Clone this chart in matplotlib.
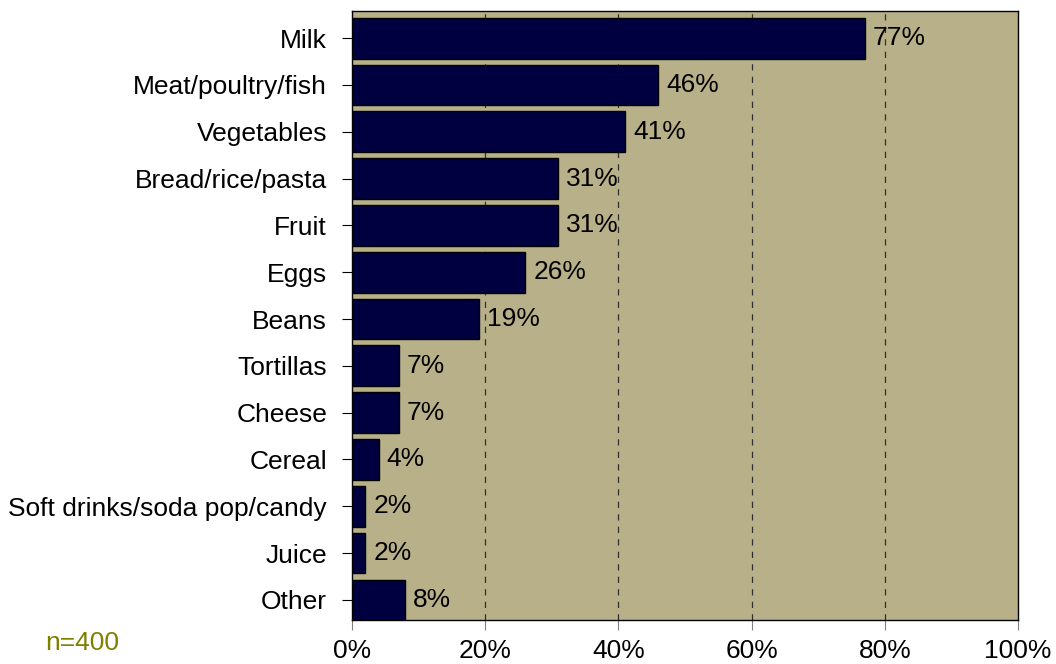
import matplotlib
matplotlib.use("Agg")
import matplotlib.pyplot as plt
from matplotlib.ticker import FuncFormatter

categories = ["Milk", "Meat/poultry/fish", "Vegetables", "Bread/rice/pasta", "Fruit",
              "Eggs", "Beans", "Tortillas", "Cheese", "Cereal",
              "Soft drinks/soda pop/candy", "Juice", "Other"]
values = [77, 46, 41, 31, 31, 26, 19, 7, 7, 4, 2, 2, 8]
xticks = [0, 20, 40, 60, 80, 100]

plt.rcParams['font.family'] = ['Liberation Sans', 'DejaVu Sans']
FS = 19

fig = plt.figure(figsize=(10.56, 6.64), dpi=100)
ax = fig.add_axes([352/1056, 44/664, 666/1056, 609/664])
ax.set_facecolor('#B8B088')

y = list(range(len(categories)))
ax.barh(y, values, height=0.87, color='#000040', edgecolor='black', linewidth=1, zorder=3)
for yi, v in zip(y, values):
    ax.text(v + 1.2, yi, f"{v}%", va='center', ha='left', fontsize=FS, color='black', zorder=4)

ax.set_xlim(0, 100)
ax.set_ylim(12.43, -0.58)
ax.set_yticks(y)
ax.set_yticklabels(categories, fontsize=FS)
ax.set_xticks(xticks)
ax.xaxis.set_major_formatter(FuncFormatter(lambda v, p: f"{int(v)}%"))
ax.tick_params(axis='x', labelsize=FS, length=7, direction='out', pad=7, color='#808080')
ax.tick_params(axis='y', length=7, direction='out', pad=11)
for g in xticks[1:-1]:
    ax.axvline(g, color='#303030', linestyle=(0, (5, 5)), linewidth=0.9, zorder=1)

for s in ['left', 'bottom', 'right', 'top']:
    ax.spines[s].set_color('black')
    ax.spines[s].set_linewidth(1)

fig.text(45/1056, (664 - 643)/664, "n=400", color='#808000', fontsize=FS, ha='left', va='center')

fig.savefig("out.png", dpi=100)
